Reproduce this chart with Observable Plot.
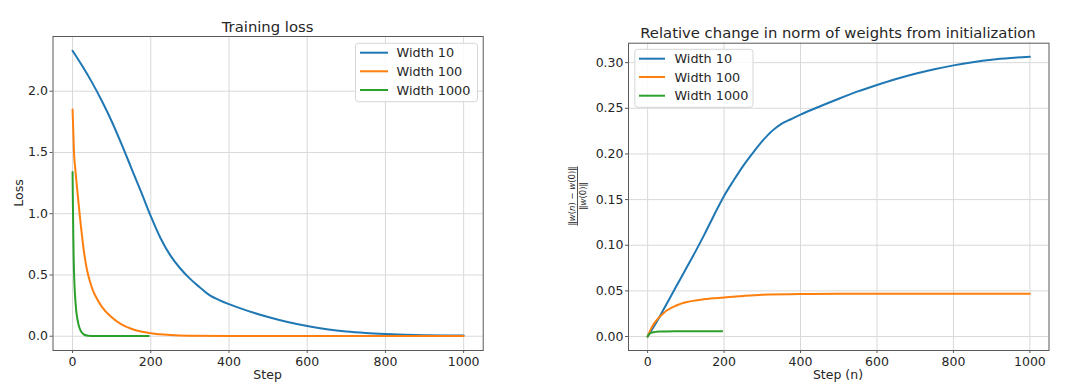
<!DOCTYPE html>
<html><head><meta charset="utf-8">
<script src="https://cdn.jsdelivr.net/npm/d3@7"></script>
<script src="https://cdn.jsdelivr.net/npm/@observablehq/plot@0.6"></script>
<style>
body{margin:0;background:#fff;font-family:"DejaVu Sans",sans-serif;color:#262626}
#wrap{position:relative;width:1080px;height:392px;overflow:hidden;background:#fff}
#wrap svg{position:absolute;top:0}
</style></head><body><div id="wrap"></div>
<script>
// ---- data ----
const seriesNames = ["Width 10", "Width 100", "Width 1000"];
const seriesColors = ["#1f77b4", "#ff7f0e", "#2ca02c"];
const xTicks = [0, 200, 400, 600, 800, 1000];
const lossTicks = [0, 0.5, 1.0, 1.5, 2.0];
const normTicks = [0, 0.05, 0.10, 0.15, 0.20, 0.25, 0.30];

const lossSteps10 = [0,25,50,75,100,125,150,175,200,225,250,275,300,325,350,375,400,450,500,550,600,650,700,750,800,850,900,950,1000];
const loss10 = [2.33,2.205,2.07,1.92,1.755,1.57,1.375,1.18,0.98,0.80,0.66,0.555,0.47,0.40,0.335,0.295,0.262,0.205,0.157,0.116,0.083,0.057,0.038,0.026,0.018,0.012,0.008,0.006,0.005];
const lossSteps100 = [0,2,4,6,8,10,14,18,22,26,30,37,45,52,60,75,100,125,150,175,200,250,300,400,500,1000];
const loss100 = [1.85,1.66,1.48,1.40,1.33,1.26,1.13,1.0,0.88,0.77,0.67,0.54,0.44,0.375,0.32,0.24,0.155,0.097,0.061,0.038,0.024,0.0095,0.004,0.002,0.001,0.001];
const lossSteps1000 = [0,1,2,3,4,6,8,10,13,16,20,25,30,40,60,100,195];
const loss1000 = [1.34,1.05,0.80,0.62,0.50,0.35,0.26,0.19,0.13,0.085,0.05,0.025,0.012,0.004,0.002,0.001,0.001];

const normSteps10 = [0,25,50,75,100,125,150,175,200,225,250,275,300,325,350,375,400,450,500,550,600,650,700,750,800,850,900,950,1000];
const norm10 = [0,0.017,0.036,0.055,0.074,0.093,0.113,0.134,0.154,0.171,0.187,0.201,0.214,0.225,0.233,0.238,0.243,0.252,0.2605,0.2685,0.2755,0.282,0.2878,0.2928,0.297,0.3005,0.3033,0.3052,0.3065];
const normSteps100 = [0,5,10,15,20,30,40,50,75,100,150,200,250,300,400,500,1000];
const norm100 = [0,0.005,0.0095,0.013,0.016,0.021,0.025,0.0285,0.034,0.0375,0.041,0.0428,0.0445,0.0458,0.0466,0.0468,0.0468];
const normSteps1000 = [0,3,6,10,15,20,30,50,100,195];
const norm1000 = [0,0.002,0.0033,0.0042,0.0048,0.0051,0.0054,0.0056,0.0057,0.0057];

function rows(stepsList, valuesList) {
  const out = [];
  seriesNames.forEach((s, i) => stepsList[i].forEach((st, j) => out.push({series: s, step: st, value: valuesList[i][j]})));
  return out;
}
const lossData = rows([lossSteps10, lossSteps100, lossSteps1000], [loss10, loss100, loss1000]);
const normData = rows([normSteps10, normSteps100, normSteps1000], [norm10, norm100, norm1000]);

const FONT = "DejaVu Sans";
function panel({data, ydomain, yticks, yfmt, ml, mr, mt, mb}) {
  return Plot.plot({
    width: 540, height: 392,
    marginLeft: ml, marginRight: mr, marginTop: mt, marginBottom: mb,
    style: {fontFamily: FONT, fontSize: "12.5px", color: "#262626", background: "transparent", overflow: "visible"},
    x: {domain: [-50, 1050]},
    y: {domain: ydomain},
    color: {domain: seriesNames, range: seriesColors},
    marks: [
      Plot.gridX(xTicks, {stroke: "#d9d9d9", strokeOpacity: 1, strokeWidth: 1}),
      Plot.gridY(yticks, {stroke: "#d9d9d9", strokeOpacity: 1, strokeWidth: 1}),
      Plot.line(data, {x: "step", y: "value", z: "series", stroke: "series", strokeWidth: 2, curve: "monotone-x"}),
      Plot.frame({stroke: "#595959", strokeWidth: 1}),
      Plot.axisX(xTicks, {tickSize: 3, tickPadding: 3.5, tickFormat: d => String(d), label: null, stroke: "#595959", fill: "#262626"}),
      Plot.axisY(yticks, {tickSize: 3, tickPadding: 2, tickFormat: yfmt, label: null, stroke: "#595959", fill: "#262626"})
    ]
  });
}

const wrap = document.getElementById("wrap");
const left = panel({data: lossData, ydomain: [-0.1165, 2.4465], yticks: lossTicks, yfmt: d3.format(".1f"), ml: 52.5, mr: 57.3, mt: 36, mb: 42});
left.style.left = "0px";
wrap.appendChild(left);
const right = panel({data: normData, ydomain: [-0.0153, 0.3213], yticks: normTicks, yfmt: d3.format(".2f"), ml: 88, mr: 31.5, mt: 42.7, mb: 42});
right.style.left = "540px";
wrap.appendChild(right);

// ---- annotations: titles, axis labels, legends ----
const ov = d3.select(wrap).append("svg").attr("width", 1080).attr("height", 392)
  .style("left", "0px").style("pointer-events", "none")
  .attr("font-family", FONT).attr("fill", "#262626");

ov.append("text").attr("x", 267.6).attr("y", 31.5).attr("text-anchor", "middle").attr("font-size", 14.8).text("Training loss");
ov.append("text").attr("x", 838).attr("y", 38).attr("text-anchor", "middle").attr("font-size", 14.8).text("Relative change in norm of weights from initialization");
ov.append("text").attr("x", 267.6).attr("y", 378.5).attr("text-anchor", "middle").attr("font-size", 12.5).text("Step");
ov.append("text").attr("x", 838).attr("y", 378.5).attr("text-anchor", "middle").attr("font-size", 12.5).text("Step (n)");
ov.append("text").attr("transform", "translate(23,193) rotate(-90)").attr("text-anchor", "middle").attr("font-size", 12.5).text("Loss");

const frac = ov.append("g").attr("transform", "translate(577.5,196) rotate(-90)").attr("font-size", 8.5).attr("text-anchor", "middle");
const num = frac.append("text").attr("y", -2.5);
num.append("tspan").text("\u2016");
num.append("tspan").attr("font-style", "italic").text("w");
num.append("tspan").text("(");
num.append("tspan").attr("font-style", "italic").text("n");
num.append("tspan").text(") \u2212 ");
num.append("tspan").attr("font-style", "italic").text("w");
num.append("tspan").text("(0)\u2016");
frac.append("line").attr("x1", -29.5).attr("x2", 29.5).attr("y1", 0).attr("y2", 0).attr("stroke", "#262626").attr("stroke-width", 0.8);
const den = frac.append("text").attr("y", 8.8);
den.append("tspan").text("\u2016");
den.append("tspan").attr("font-style", "italic").text("w");
den.append("tspan").text("(0)\u2016");

function legend(bx, by, bw, bh, lx0, lx1, tx, ys) {
  ov.append("rect").attr("x", bx).attr("y", by).attr("width", bw).attr("height", bh).attr("rx", 3)
    .attr("fill", "#fff").attr("fill-opacity", 0.85).attr("stroke", "#d6d6d6").attr("stroke-width", 1);
  seriesNames.forEach((s, i) => {
    ov.append("line").attr("x1", lx0).attr("x2", lx1).attr("y1", ys[i]).attr("y2", ys[i])
      .attr("stroke", seriesColors[i]).attr("stroke-width", 2);
    ov.append("text").attr("x", tx).attr("y", ys[i] + 4.6).attr("font-size", 12.8).text(s);
  });
}
legend(355.5, 43.3, 122, 58.4, 360, 388, 396.6, [52.7, 71.3, 90]);
legend(634.8, 49.3, 118.2, 58, 639, 665, 674.5, [58.7, 77, 95.7]);
</script></body></html>
